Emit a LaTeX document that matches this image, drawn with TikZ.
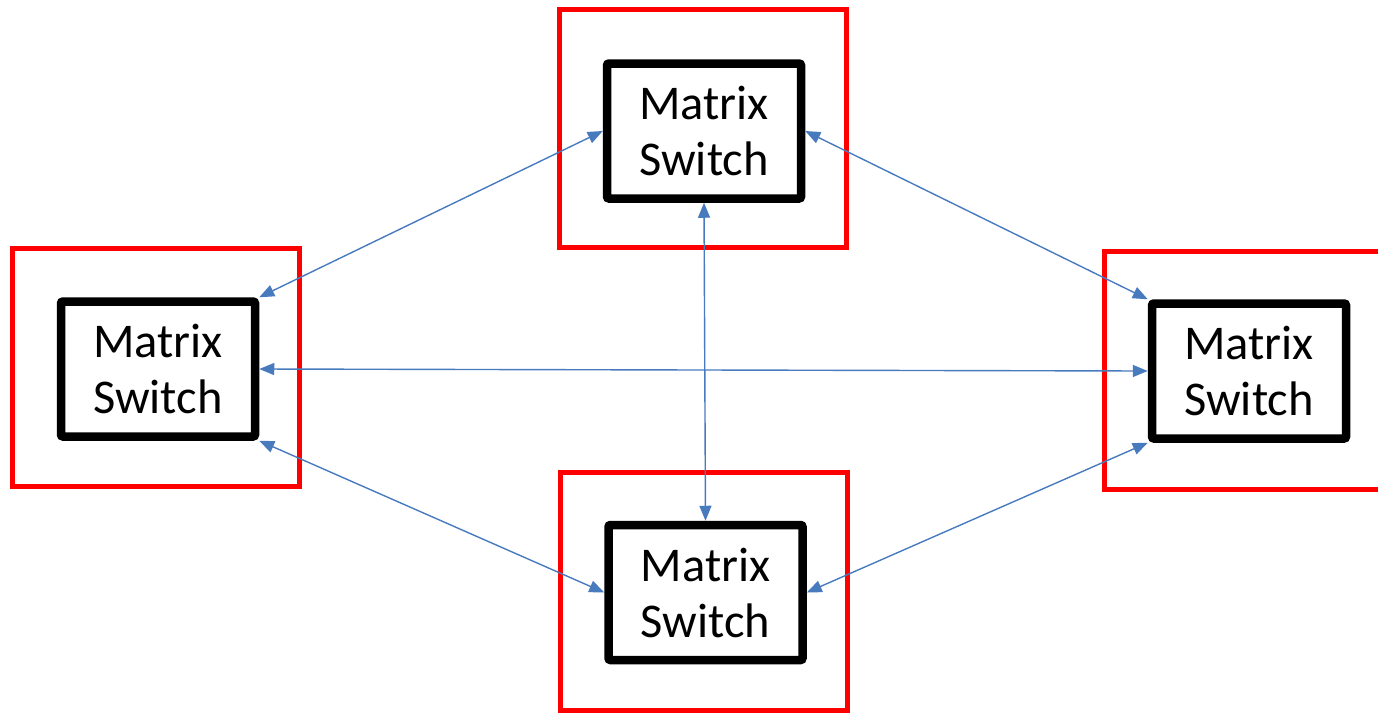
\documentclass[tikz,border=0pt]{standalone}
\usepackage{fontspec}
\setmainfont{Carlito}
\usetikzlibrary{arrows.meta}
\definecolor{linkblue}{RGB}{72,122,190}
\definecolor{framered}{RGB}{255,0,0}
\tikzset{
  frame/.style={draw=framered, line width=5pt, minimum width=287pt, minimum height=238pt, inner sep=0pt},
  switchbox/.style={draw=black, line width=8.5pt, rounded corners=2pt, fill=white,
    minimum width=194pt, minimum height=135pt, inner sep=0pt, align=center,
    font=\fontsize{48.5}{56}\selectfont},
  link/.style={draw=linkblue, line width=1.4pt, {Triangle[length=15pt,width=12pt]}-{Triangle[length=15pt,width=12pt]}}
}
\begin{document}
\begin{tikzpicture}[x=1pt,y=-1pt]
  \useasboundingbox (0,0) rectangle (1378,713);
  \clip (0,0) rectangle (1378,713);
  % outer frames
  \node[frame] (ftop) at (702.5,128.5) {};
  \node[frame] (fleft) at (156,367) {};
  \node[frame] (fright) at (1248,370) {};
  \node[frame] (fbottom) at (704,591) {};
  % switches
  \node[switchbox] (top) at (704,131) {Matrix\\Switch};
  \node[switchbox] (left) at (158,369) {Matrix\\Switch};
  \node[switchbox] (right) at (1249,371) {Matrix\\Switch};
  \node[switchbox] (bottom) at (705.5,592.5) {Matrix\\Switch};
  % links between switches
  \draw[link] (top.west) -- (left.north east);
  \draw[link] (top.east) -- (right.north west);
  \draw[link] (top.south) -- (bottom.north);
  \draw[link] (left.east) -- (right.west);
  \draw[link] (left.south east) -- (bottom.west);
  \draw[link] (right.south west) -- (bottom.east);
\end{tikzpicture}
\end{document}
